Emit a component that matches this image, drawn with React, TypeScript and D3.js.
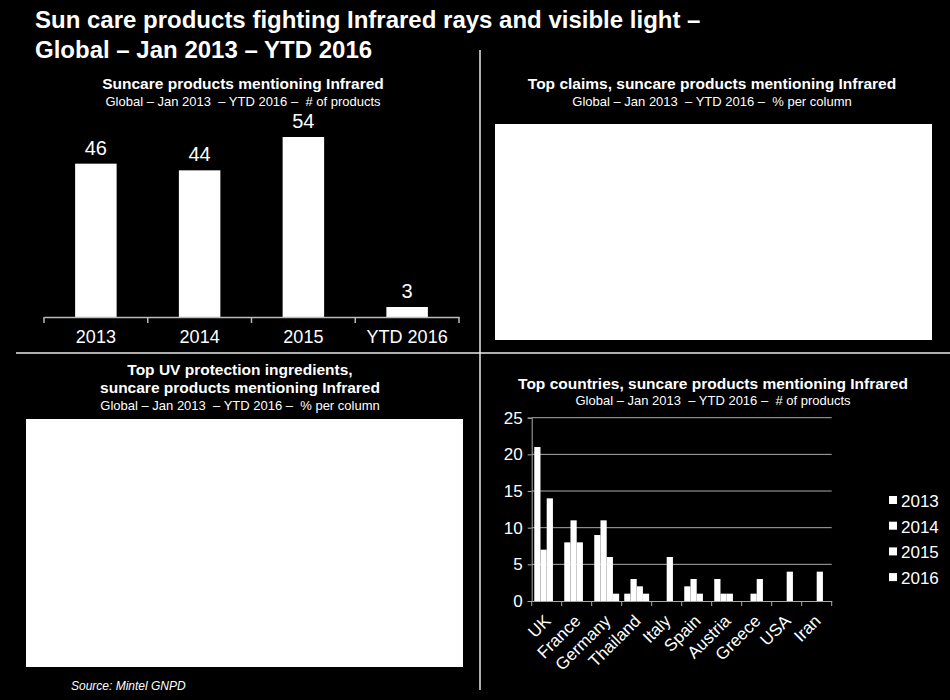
import React, { useEffect, useRef } from 'react';
import * as d3 from 'd3';

const yearLabels = ['2013', '2014', '2015', 'YTD 2016'];
const yearCounts = [46, 44, 54, 3];

const countries = ['UK', 'France', 'Germany', 'Thailand', 'Italy', 'Spain', 'Austria', 'Greece', 'USA', 'Iran'];
const seriesNames = ['2013', '2014', '2015', '2016'];
const s2013 = [21, 8, 9, 1, 0, 2, 3, 0, 0, 0];
const s2014 = [7, 11, 11, 3, 0, 3, 1, 1, 0, 0];
const s2015 = [14, 8, 6, 2, 6, 1, 1, 3, 4, 4];
const s2016 = [0, 0, 1, 1, 0, 0, 0, 0, 0, 0];
const countryTicks = [0, 5, 10, 15, 20, 25];

const FONT = '"Liberation Sans", Arial, sans-serif';

function App() {
  const ref = useRef<SVGSVGElement | null>(null);

  useEffect(() => {
    if (!ref.current) return;
    const svg = d3.select(ref.current);
    svg.selectAll('*').remove();

    svg.append('rect').attr('width', 950).attr('height', 700).attr('fill', '#000');

    const txt = (x: number, y: number, s: string, size: number, opts: any = {}) =>
      svg.append('text')
        .attr('x', x).attr('y', y)
        .attr('fill', '#fff')
        .attr('font-family', FONT)
        .attr('font-size', size)
        .attr('font-weight', opts.bold ? 'bold' : 'normal')
        .attr('font-style', opts.italic ? 'italic' : 'normal')
        .attr('text-anchor', opts.anchor || 'start')
        .style('white-space', 'pre')
        .text(s);

    // main title
    txt(35, 28, 'Sun care products fighting Infrared rays and visible light –', 24, { bold: true });
    txt(35, 58, 'Global – Jan 2013 – YTD 2016', 24, { bold: true });

    // dividers
    svg.append('line').attr('x1', 480).attr('x2', 480).attr('y1', 50).attr('y2', 690)
      .attr('stroke', '#e8e8e8').attr('stroke-width', 1.5);
    svg.append('line').attr('x1', 16).attr('x2', 950).attr('y1', 353).attr('y2', 353)
      .attr('stroke', '#e8e8e8').attr('stroke-width', 1.5);

    // panel titles
    txt(243, 89, 'Suncare products mentioning Infrared', 15.5, { bold: true, anchor: 'middle' });
    txt(243, 106, 'Global – Jan 2013  – YTD 2016 –  # of products', 13, { anchor: 'middle' });
    txt(712, 89, 'Top claims, suncare products mentioning Infrared', 15.5, { bold: true, anchor: 'middle' });
    txt(712, 106, 'Global – Jan 2013  – YTD 2016 –  % per column', 13, { anchor: 'middle' });
    txt(240, 375, 'Top UV protection ingredients,', 15.5, { bold: true, anchor: 'middle' });
    txt(240, 393, 'suncare products mentioning Infrared', 15.5, { bold: true, anchor: 'middle' });
    txt(240, 410, 'Global – Jan 2013  – YTD 2016 –  % per column', 13, { anchor: 'middle' });
    txt(713, 389, 'Top countries, suncare products mentioning Infrared', 15.5, { bold: true, anchor: 'middle' });
    txt(713, 405, 'Global – Jan 2013  – YTD 2016 –  # of products', 13, { anchor: 'middle' });
    txt(71, 690, 'Source: Mintel GNPD', 12, { italic: true });

    // blank white panels
    svg.append('rect').attr('x', 495).attr('y', 124).attr('width', 437).attr('height', 216).attr('fill', '#fff');
    svg.append('rect').attr('x', 26).attr('y', 419).attr('width', 437).attr('height', 248).attr('fill', '#fff');

    // top-left: bar chart by year
    const x1 = d3.scaleBand().domain(yearLabels).range([44, 459]).paddingInner(0.6).paddingOuter(0.3);
    const y1 = d3.scaleLinear().domain([0, 60]).range([317, 117]);
    const g1 = svg.append('g');
    g1.selectAll('rect.bar').data(yearCounts).enter().append('rect')
      .attr('x', (_, i) => x1(yearLabels[i]) as number)
      .attr('y', (d) => y1(d))
      .attr('width', x1.bandwidth())
      .attr('height', (d) => y1(0) - y1(d))
      .attr('fill', '#fff');
    g1.selectAll('text.val').data(yearCounts).enter().append('text')
      .attr('x', (_, i) => (x1(yearLabels[i]) as number) + x1.bandwidth() / 2)
      .attr('y', (d) => y1(d) - 9)
      .attr('text-anchor', 'middle')
      .attr('fill', '#fff')
      .attr('font-family', FONT)
      .attr('font-size', 20)
      .text((d) => String(d));
    const ax1 = g1.append('g').attr('transform', `translate(0,${y1(0)})`)
      .call(d3.axisBottom(x1).tickSize(0).tickPadding(13));
    ax1.select('.domain').attr('stroke', '#bbb').attr('stroke-width', 1.5);
    ax1.selectAll('text').attr('fill', '#fff').attr('font-family', FONT).attr('font-size', 18);
    const bounds1 = d3.range(yearLabels.length + 1).map((i) => 44 + i * (415 / yearLabels.length));
    g1.selectAll('line.tk').data(bounds1).enter().append('line')
      .attr('x1', (d) => d).attr('x2', (d) => d)
      .attr('y1', y1(0)).attr('y2', y1(0) + 6)
      .attr('stroke', '#bbb').attr('stroke-width', 1.5);

    // bottom-right: grouped bars by country
    const x2 = d3.scaleBand().domain(countries).range([531.7, 831.7]).paddingInner(0).paddingOuter(0);
    const xs = d3.scaleBand().domain(seriesNames).range([0, x2.bandwidth()]).paddingOuter(0.41);
    const y2 = d3.scaleLinear().domain([0, 25]).range([601, 417.7]);
    const g2 = svg.append('g');
    g2.selectAll('line.grid').data(countryTicks.slice(1)).enter().append('line')
      .attr('x1', 531.7).attr('x2', 831.7)
      .attr('y1', (d) => y2(d)).attr('y2', (d) => y2(d))
      .attr('stroke', '#aaa').attr('stroke-width', 1);
    const series = [s2013, s2014, s2015, s2016];
    series.forEach((vals, si) => {
      g2.selectAll(`rect.s${si}`).data(vals).enter().append('rect')
        .attr('x', (_, i) => (x2(countries[i]) as number) + (xs(seriesNames[si]) as number))
        .attr('y', (d) => y2(d))
        .attr('width', xs.bandwidth())
        .attr('height', (d) => y2(0) - y2(d))
        .attr('fill', '#fff');
    });
    const ay = g2.append('g').attr('transform', 'translate(531.7,0)')
      .call(d3.axisLeft(y2).tickValues(countryTicks).tickSize(4).tickPadding(5));
    ay.selectAll('.domain, line').attr('stroke', '#aaa');
    ay.selectAll('text').attr('fill', '#fff').attr('font-family', FONT).attr('font-size', 17);
    const ax2 = g2.append('g').attr('transform', `translate(0,${y2(0)})`)
      .call(d3.axisBottom(x2).tickSize(0).tickFormat(() => ''));
    ax2.select('.domain').attr('stroke', '#aaa');
    const bounds2 = d3.range(countries.length + 1).map((i) => 531.7 + i * x2.step());
    g2.selectAll('line.tk').data(bounds2).enter().append('line')
      .attr('x1', (d) => d).attr('x2', (d) => d)
      .attr('y1', y2(0)).attr('y2', y2(0) + 5)
      .attr('stroke', '#aaa');
    g2.selectAll('text.cat').data(countries).enter().append('text')
      .attr('transform', (d) => `translate(${(x2(d) as number) + x2.bandwidth() / 2 + 5},${y2(0) + 21}) rotate(-45)`)
      .attr('text-anchor', 'end')
      .attr('fill', '#fff')
      .attr('font-family', FONT)
      .attr('font-size', 17)
      .text((d) => d);

    // legend
    const lg = svg.append('g');
    seriesNames.forEach((s, i) => {
      const ly = 507 + i * 25.7;
      lg.append('rect').attr('x', 889).attr('y', ly - 11).attr('width', 8).attr('height', 8).attr('fill', '#fff');
      lg.append('text').attr('x', 901).attr('y', ly)
        .attr('fill', '#fff').attr('font-family', FONT).attr('font-size', 17).text(s);
    });
  }, []);

  return (
    <svg ref={ref} width={950} height={700} style={{ position: 'absolute', left: 0, top: 0, display: 'block' }} />
  );
}

export default App;
